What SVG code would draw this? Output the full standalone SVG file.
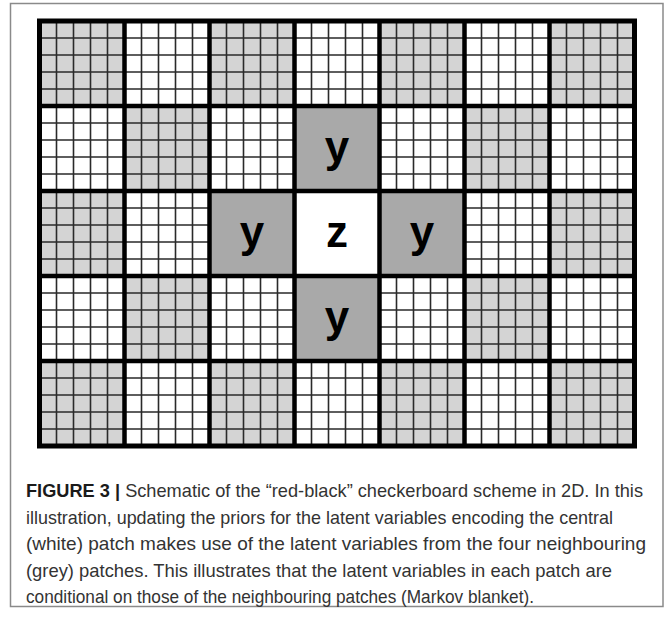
<svg xmlns="http://www.w3.org/2000/svg" width="670" height="617" viewBox="0 0 670 617">
<style>
.frame{fill:#fff;stroke:#8a8a8a;stroke-width:1.5}
.lg{fill:#d4d4d4}
.mg{fill:#a9a9a9}
.wh{fill:#fff}
.fine{fill:none;stroke:#2a2a2a;stroke-width:1.6}
.thick{fill:none;stroke:#000;stroke-width:4.5}
.outer{fill:none;stroke:#000;stroke-width:5}
.lab{font-family:"Liberation Sans",Arial,sans-serif;font-weight:bold;font-size:44px;fill:#000;text-anchor:middle}
.cap{font-family:"Liberation Sans",Arial,sans-serif;font-size:18.6px;fill:#333}
.capb{font-weight:bold;fill:#1a1a1a}
</style>
<rect class="frame" x="10.5" y="3.5" width="652.5" height="603"/>
<g id="board">
<rect class="wh" x="39.5" y="21" width="595" height="425"/>
<g id="light-patches">
<rect class="lg" x="39.5" y="21" width="85" height="85"/>
<rect class="lg" x="209.5" y="21" width="85" height="85"/>
<rect class="lg" x="379.5" y="21" width="85" height="85"/>
<rect class="lg" x="549.5" y="21" width="85" height="85"/>
<rect class="lg" x="124.5" y="106" width="85" height="85"/>
<rect class="lg" x="464.5" y="106" width="85" height="85"/>
<rect class="lg" x="39.5" y="191" width="85" height="85"/>
<rect class="lg" x="549.5" y="191" width="85" height="85"/>
<rect class="lg" x="124.5" y="276" width="85" height="85"/>
<rect class="lg" x="464.5" y="276" width="85" height="85"/>
<rect class="lg" x="39.5" y="361" width="85" height="85"/>
<rect class="lg" x="209.5" y="361" width="85" height="85"/>
<rect class="lg" x="379.5" y="361" width="85" height="85"/>
<rect class="lg" x="549.5" y="361" width="85" height="85"/>
</g>
<path class="fine" d="M56.5 21V446M73.5 21V446M90.5 21V446M107.5 21V446M141.5 21V446M158.5 21V446M175.5 21V446M192.5 21V446M226.5 21V446M243.5 21V446M260.5 21V446M277.5 21V446M311.5 21V446M328.5 21V446M345.5 21V446M362.5 21V446M396.5 21V446M413.5 21V446M430.5 21V446M447.5 21V446M481.5 21V446M498.5 21V446M515.5 21V446M532.5 21V446M566.5 21V446M583.5 21V446M600.5 21V446M617.5 21V446M39.5 38H634.5M39.5 55H634.5M39.5 72H634.5M39.5 89H634.5M39.5 123H634.5M39.5 140H634.5M39.5 157H634.5M39.5 174H634.5M39.5 208H634.5M39.5 225H634.5M39.5 242H634.5M39.5 259H634.5M39.5 293H634.5M39.5 310H634.5M39.5 327H634.5M39.5 344H634.5M39.5 378H634.5M39.5 395H634.5M39.5 412H634.5M39.5 429H634.5"/>
</g>
<g id="patch-y-top">
<rect class="mg" x="294.5" y="106" width="85" height="85"/>
<text class="lab" x="337" y="161.5">y</text>
</g>
<g id="patch-y-left">
<rect class="mg" x="209.5" y="191" width="85" height="85"/>
<text class="lab" x="252" y="246.5">y</text>
</g>
<g id="patch-z">
<rect class="wh" x="294.5" y="191" width="85" height="85"/>
<text class="lab" x="337" y="246.5">z</text>
</g>
<g id="patch-y-right">
<rect class="mg" x="379.5" y="191" width="85" height="85"/>
<text class="lab" x="422" y="246.5">y</text>
</g>
<g id="patch-y-bottom">
<rect class="mg" x="294.5" y="276" width="85" height="85"/>
<text class="lab" x="337" y="331.5">y</text>
</g>
<g id="grid-lines">
<path class="thick" d="M124.5 21V446M209.5 21V446M294.5 21V446M379.5 21V446M464.5 21V446M549.5 21V446M39.5 106H634.5M39.5 191H634.5M39.5 276H634.5M39.5 361H634.5"/>
<rect class="outer" x="39.5" y="21" width="595" height="425"/>
</g>
<g id="caption" class="cap">
<text x="26" y="497" textLength="617" lengthAdjust="spacingAndGlyphs"><tspan class="capb">FIGURE 3 |</tspan> Schematic of the “red-black” checkerboard scheme in 2D. In this</text>
<text x="26" y="523.5" textLength="587" lengthAdjust="spacingAndGlyphs">illustration, updating the priors for the latent variables encoding the central</text>
<text x="26" y="550" textLength="620" lengthAdjust="spacingAndGlyphs">(white) patch makes use of the latent variables from the four neighbouring</text>
<text x="26" y="576.5" textLength="586" lengthAdjust="spacingAndGlyphs">(grey) patches. This illustrates that the latent variables in each patch are</text>
<text x="26" y="603" textLength="508" lengthAdjust="spacingAndGlyphs">conditional on those of the neighbouring patches (Markov blanket).</text>
</g>
</svg>
